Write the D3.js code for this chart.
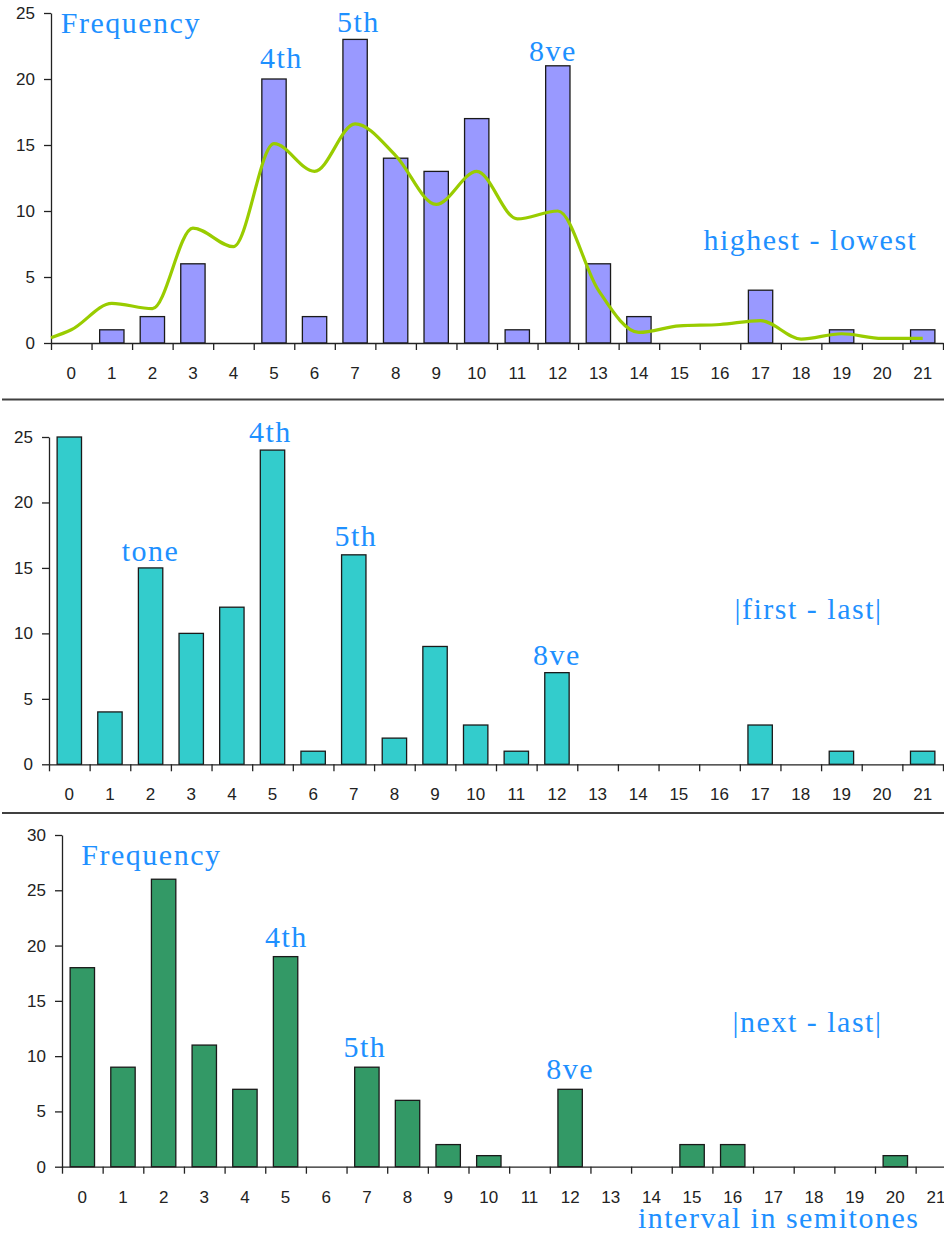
<!DOCTYPE html>
<html>
<head>
<meta charset="utf-8">
<script src="https://cdn.jsdelivr.net/npm/d3@7"></script>
<style>
  html, body { margin: 0; padding: 0; background: #fff; }
  svg { display: block; }
  .note { font-family: "Liberation Serif", "Times New Roman", serif; font-size: 30px; fill: #1E90FF; letter-spacing: 1.5px; }
  .tick text { font-family: "Liberation Sans", Arial, sans-serif; font-size: 17px; fill: #222; }
</style>
</head>
<body>
<svg id="chart" width="944" height="1236"></svg>
<script>
// Interval sizes in semitones (x categories)
const semitones = [0, 1, 2, 3, 4, 5, 6, 7, 8, 9, 10, 11, 12, 13, 14, 15, 16, 17, 18, 19, 20, 21];

// Frequency counts per interval
const highestLowest = [0, 1, 2, 6, 0, 20, 2, 23, 14, 13, 17, 1, 21, 6, 2, 0, 0, 4, 0, 1, 0, 1];
const firstLast     = [25, 4, 15, 10, 12, 24, 1, 16, 2, 9, 3, 1, 7, 0, 0, 0, 0, 3, 0, 1, 0, 1];
const nextLast      = [18, 9, 26, 11, 7, 19, 0, 9, 6, 2, 1, 0, 7, 0, 0, 2, 2, 0, 0, 0, 1, 0];

// Smoothed trend over the highest - lowest distribution
const smoothX = [-0.5, 0, 1, 2, 3, 4, 5, 6, 7, 8, 9, 10, 11, 12, 13, 14, 15, 16, 17, 18, 19, 20, 21];
const smoothY = [0.4, 1.0, 3.0, 2.6, 8.7, 7.3, 15.1, 13.0, 16.6, 14.2, 10.5, 13.0, 9.4, 10.0, 4.0, 0.8, 1.3, 1.4, 1.7, 0.3, 0.7, 0.35, 0.35];

// Y tick values
const ticks25 = [0, 5, 10, 15, 20, 25];
const ticks30 = [0, 5, 10, 15, 20, 25, 30];

// Annotations: k = interval position, v = height in counts
const topNotes = [
  { text: "Frequency", k: 1.47, v: 23.5 },
  { text: "4th", k: 5.18, v: 20.8 },
  { text: "5th", k: 7.08, v: 23.55 },
  { text: "8ve", k: 11.88, v: 21.4 },
  { text: "highest - lowest", k: 18.23, v: 7.05 }
];
const midNotes = [
  { text: "tone", k: 2.0, v: 15.55 },
  { text: "4th", k: 4.95, v: 24.58 },
  { text: "5th", k: 7.05, v: 16.7 },
  { text: "8ve", k: 12.0, v: 7.6 },
  { text: "|first - last|", k: 18.19, v: 11.1 }
];
const botNotes = [
  { text: "Frequency", k: 1.70, v: 27.3 },
  { text: "4th", k: 5.02, v: 19.87 },
  { text: "5th", k: 6.95, v: 9.92 },
  { text: "8ve", k: 12.0, v: 7.93 },
  { text: "|next - last|", k: 17.84, v: 12.18 }
];

const svg = d3.select("#chart");
svg.append("rect").attr("width", 944).attr("height", 1236).attr("fill", "#fff");

const panels = [
  { values: highestLowest, fill: "#9999FF", x0: 51, x1: 943, y0: 343, y1: 13, yMax: 25, yTicks: ticks25, notes: topNotes, trend: true },
  { values: firstLast, fill: "#33CCCC", x0: 49, x1: 943, y0: 764.3, y1: 437, yMax: 25, yTicks: ticks25, notes: midNotes },
  { values: nextLast, fill: "#339966", x0: 62, x1: 956.3, y0: 1166.7, y1: 835, yMax: 30, yTicks: ticks30, notes: botNotes, title: true }
];

panels.forEach(p => {
  const g = svg.append("g");
  const xBand = d3.scaleBand().domain(semitones).range([p.x0, p.x1]).paddingInner(0.4).paddingOuter(0.2);
  const xLin = d3.scaleLinear().domain([-0.5, semitones.length - 0.5]).range([p.x0, p.x1]);
  const y = d3.scaleLinear().domain([0, p.yMax]).range([p.y0, p.y1]);

  // bars
  g.append("g").selectAll("rect")
    .data(semitones.map((s, i) => ({ s, v: p.values[i] })).filter(d => d.v > 0))
    .join("rect")
    .attr("x", d => xBand(d.s))
    .attr("width", xBand.bandwidth())
    .attr("y", d => y(d.v))
    .attr("height", d => y(0) - y(d.v))
    .attr("fill", p.fill)
    .attr("stroke", "#1a1a1a")
    .attr("stroke-width", 1.3);

  // category labels
  const labelAxis = g.append("g")
    .attr("transform", `translate(0,${p.y0})`)
    .call(d3.axisBottom(xBand).tickSize(0).tickPadding(24));
  labelAxis.select(".domain").remove();

  // x axis line with ticks between categories
  const tickAxis = g.append("g")
    .attr("transform", `translate(0,${p.y0})`)
    .call(d3.axisBottom(xLin)
      .tickValues(d3.range(-0.5, semitones.length))
      .tickFormat("")
      .tickSize(7)
      .tickSizeOuter(0));
  tickAxis.selectAll("path, line").attr("stroke", "#222").attr("stroke-width", 1.3);

  // y axis
  const yAxis = g.append("g")
    .attr("transform", `translate(${p.x0},0)`)
    .call(d3.axisLeft(y).tickValues(p.yTicks).tickSize(7).tickPadding(9).tickSizeOuter(0));
  yAxis.selectAll("path, line").attr("stroke", "#222").attr("stroke-width", 1.3);

  // smoothed trend line
  if (p.trend) {
    const line = d3.line()
      .x((d, i) => xLin(smoothX[i]))
      .y(d => y(d))
      .curve(d3.curveMonotoneX);
    g.append("path")
      .attr("d", line(smoothY))
      .attr("fill", "none")
      .attr("stroke", "#99CC00")
      .attr("stroke-width", 3.2)
      .attr("stroke-linejoin", "round");
  }

  // annotations
  g.append("g").selectAll("text")
    .data(p.notes)
    .join("text")
    .attr("class", "note")
    .attr("text-anchor", "middle")
    .attr("x", d => xLin(d.k))
    .attr("y", d => y(d.v))
    .text(d => d.text);

  if (p.title) {
    g.append("text")
      .attr("class", "note")
      .attr("text-anchor", "middle")
      .attr("x", xLin(17.13))
      .attr("y", p.y0 + 61.5)
      .text("interval in semitones");
  }
});

// panel separators
svg.append("g").selectAll("line")
  .data([399.5, 813])
  .join("line")
  .attr("x1", 2).attr("x2", 944)
  .attr("y1", d => d).attr("y2", d => d)
  .attr("stroke", "#404040")
  .attr("stroke-width", 2);
</script>
</body>
</html>
